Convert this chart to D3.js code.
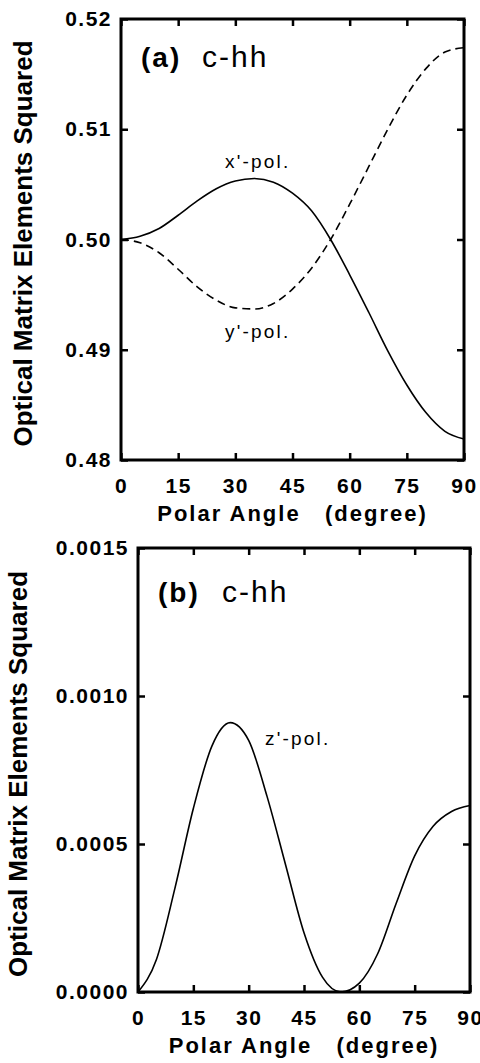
<!DOCTYPE html>
<html>
<head>
<meta charset="utf-8">
<script src="https://cdn.jsdelivr.net/npm/d3@7"></script>
<style>
  body { margin: 0; background: #fff; }
  svg { display: block; }
  text { font-family: "Liberation Sans", Arial, sans-serif; fill: #000; }
</style>
</head>
<body>
<div id="chart"></div>
<script>
// angles (degree) sampled every 5
var angles = [0, 5, 10, 15, 20, 25, 30, 35, 40, 45, 50, 55, 60, 65, 70, 75, 80, 85, 90];

// panel (a) c-hh
var xPol = [0.5000, 0.5003, 0.5010, 0.5022, 0.5035, 0.5046, 0.5053, 0.50553, 0.5052, 0.5042,
            0.5026, 0.5000, 0.4968, 0.4934, 0.4899, 0.4868, 0.4843, 0.4826, 0.4819];
var yPol = [0.5000, 0.4997, 0.4988, 0.4973, 0.4957, 0.4945, 0.4938, 0.4937, 0.4942, 0.4955,
            0.4974, 0.5000, 0.5032, 0.5066, 0.5100, 0.5131, 0.5155, 0.5170, 0.5174];

// panel (b) c-hh
var zPol = [0, 0.00011, 0.00035, 0.00062, 0.00083, 0.00091, 0.00085, 0.00066, 0.00043, 0.00020,
            0.00005, 0.00000, 0.00003, 0.00013, 0.00030, 0.00046, 0.00056, 0.00061, 0.00063];

var xTicks = [0, 15, 30, 45, 60, 75, 90];
var yTicksA = [0.48, 0.49, 0.50, 0.51, 0.52];
var yTicksB = [0, 0.0005, 0.0010, 0.0015];

var svgWidth = 480;
var svgHeight = 1063;

var svg = d3.select("#chart")
  .append("svg")
  .attr("width", svgWidth)
  .attr("height", svgHeight);

function drawPanel(p) {
  var x = d3.scaleLinear().domain([0, 90]).range([p.left, p.right]);
  var y = d3.scaleLinear().domain(p.yDomain).range([p.bottom, p.top]);

  var g = svg.append("g");

  // tick marks pointing inward on all four sides
  var bottomAxis = d3.axisBottom(x).tickValues(xTicks).tickSizeInner(-7).tickSizeOuter(0)
    .tickPadding(18).tickFormat(d3.format("d"));
  var topAxis = d3.axisTop(x).tickValues(xTicks).tickSizeInner(-7).tickSizeOuter(0).tickFormat("");
  var leftAxis = d3.axisLeft(y).tickValues(p.yTicks).tickSizeInner(-7).tickSizeOuter(0)
    .tickPadding(9).tickFormat(d3.format(p.yFormat));
  var rightAxis = d3.axisRight(y).tickValues(p.yTicks).tickSizeInner(-7).tickSizeOuter(0).tickFormat("");

  var axes = [
    g.append("g").attr("transform", "translate(0," + p.bottom + ")").call(bottomAxis),
    g.append("g").attr("transform", "translate(0," + p.top + ")").call(topAxis),
    g.append("g").attr("transform", "translate(" + p.left + ",0)").call(leftAxis),
    g.append("g").attr("transform", "translate(" + p.right + ",0)").call(rightAxis)
  ];
  axes.forEach(function(a) {
    a.select(".domain").remove();
    a.selectAll("line").attr("stroke", "#000").attr("stroke-width", 2.5);
    a.selectAll("text")
      .style("font-size", "21px")
      .style("font-weight", "bold")
      .style("letter-spacing", "1.5px");
  });

  // frame
  g.append("rect")
    .attr("x", p.left)
    .attr("y", p.top)
    .attr("width", p.right - p.left)
    .attr("height", p.bottom - p.top)
    .attr("fill", "none")
    .attr("stroke", "#000")
    .attr("stroke-width", 3);

  var line = d3.line()
    .x(function(d) { return x(d[0]); })
    .y(function(d) { return y(d[1]); })
    .curve(d3.curveMonotoneX);

  p.series.forEach(function(s) {
    g.append("path")
      .datum(angles.map(function(a, i) { return [a, s.values[i]]; }))
      .attr("d", line)
      .attr("fill", "none")
      .attr("stroke", "#000")
      .attr("stroke-width", 1.6)
      .attr("stroke-dasharray", s.dash);

    g.append("text")
      .attr("x", s.label[0])
      .attr("y", s.label[1])
      .style("font-size", "19px")
      .style("letter-spacing", "2.2px")
      .text(s.name);
  });

  // panel tag and band name
  g.append("text")
    .attr("x", p.tag[0])
    .attr("y", p.tag[1])
    .style("font-size", "28px")
    .style("font-weight", "bold")
    .style("letter-spacing", "2px")
    .text(p.tagText);
  g.append("text")
    .attr("x", p.band[0])
    .attr("y", p.band[1])
    .style("font-size", "30px")
    .style("letter-spacing", "2px")
    .text("c-hh");

  // axis titles
  g.append("text")
    .attr("x", (p.left + p.right) / 2)
    .attr("y", p.bottom + 61)
    .attr("text-anchor", "middle")
    .style("font-size", "22px")
    .style("font-weight", "bold")
    .style("letter-spacing", "2px")
    .style("white-space", "pre")
    .text("Polar Angle   (degree)");

  g.append("text")
    .attr("transform", "translate(" + p.yTitleX + "," + ((p.top + p.bottom) / 2 + 4) + ") rotate(-90)")
    .attr("text-anchor", "middle")
    .style("font-size", "26px")
    .style("font-weight", "bold")
    .text("Optical Matrix Elements Squared");
}

drawPanel({
  left: 121, right: 464, top: 19, bottom: 460,
  yDomain: [0.48, 0.52], yTicks: yTicksA, yFormat: ".2f",
  yTitleX: 32,
  tagText: "(a)", tag: [141, 67], band: [202, 67],
  series: [
    { name: "x'-pol.", values: xPol, dash: null, label: [225, 168] },
    { name: "y'-pol.", values: yPol, dash: "8,5", label: [225, 338] }
  ]
});

drawPanel({
  left: 138, right: 470, top: 548, bottom: 992,
  yDomain: [0, 0.0015], yTicks: yTicksB, yFormat: ".4f",
  yTitleX: 27,
  tagText: "(b)", tag: [158, 602], band: [222, 602],
  series: [
    { name: "z'-pol.", values: zPol, dash: null, label: [265, 745] }
  ]
});
</script>
</body>
</html>
